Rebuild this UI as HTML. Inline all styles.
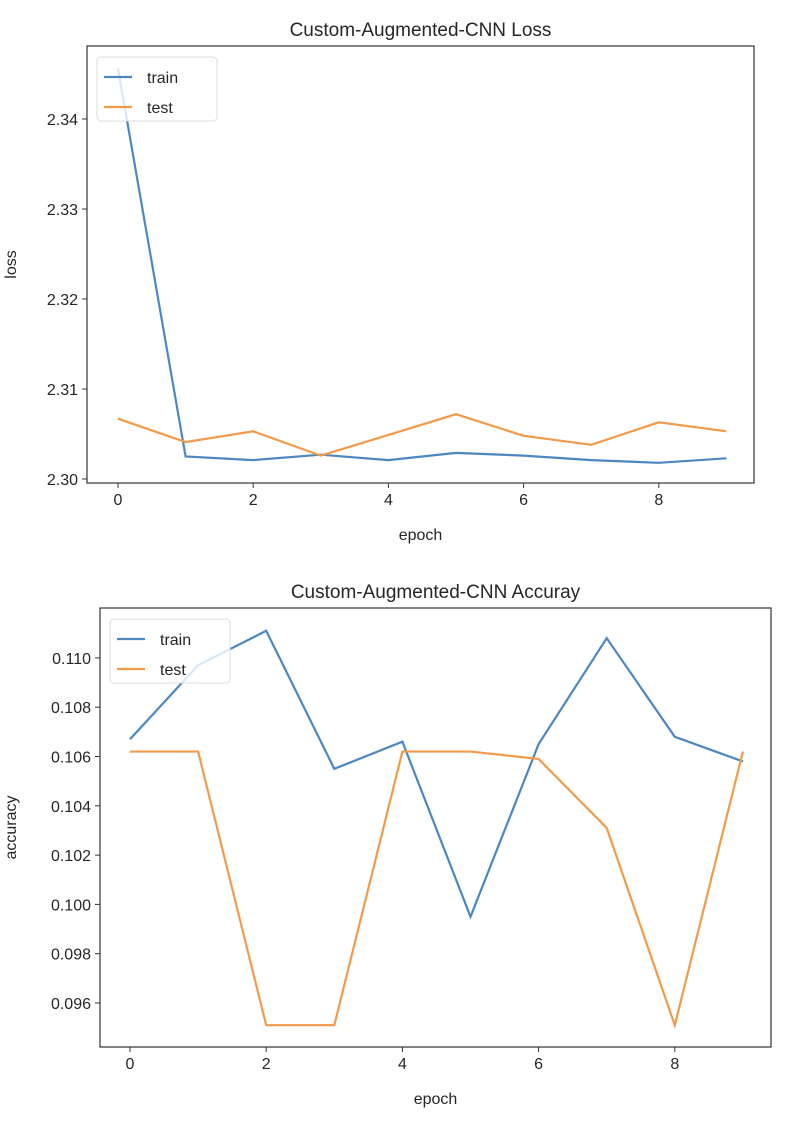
<!DOCTYPE html>
<html><head><meta charset="utf-8"><style>
body{margin:0;background:#fff;}
svg text{font-family:"Liberation Sans","DejaVu Sans",sans-serif;fill:#262626;}
</style></head><body>
<svg id="s" width="804" height="1116" xmlns="http://www.w3.org/2000/svg"></svg>
<script>
const epochs=[0,1,2,3,4,5,6,7,8,9];
const lossTrain=[2.3456,2.3025,2.3021,2.3027,2.3021,2.3029,2.3026,2.3021,2.3018,2.3023];
const lossTest=[2.3067,2.3041,2.3053,2.3026,2.3049,2.3072,2.3048,2.3038,2.3063,2.3053];
const accTrain=[0.1067,0.1097,0.1111,0.1055,0.1066,0.0995,0.1065,0.1108,0.1068,0.1058];
const accTest=[0.1062,0.1062,0.0951,0.0951,0.1062,0.1062,0.1059,0.1031,0.0951,0.1062];
const xTicks=[0,2,4,6,8];
const lossTicks=[2.30,2.31,2.32,2.33,2.34];
const lossTickLabels=["2.30","2.31","2.32","2.33","2.34"];
const accTicks=[0.096,0.098,0.100,0.102,0.104,0.106,0.108,0.110];
const accTickLabels=["0.096","0.098","0.100","0.102","0.104","0.106","0.108","0.110"];
const NS="http://www.w3.org/2000/svg";
const svg=document.getElementById('s');
function mk(t,a,p){const e=document.createElementNS(NS,t);for(const k in a)e.setAttribute(k,a[k]);(p||svg).appendChild(e);return e;}
function chart(cfg){
  const g=mk('g',{});
  
  
  const X=v=>cfg.x0+(v-0)*cfg.xs;
  const Y=v=>cfg.yRefPx+(cfg.yRef-v)*cfg.ys;
  const series=[[cfg.train,'#4c87c1','train'],[cfg.test,'#f39a4a','test']];
  series.forEach(([d,c,n])=>{
    const p=mk('polyline',{points:d.map((v,i)=>X(epochs[i])+','+Y(v)).join(' '),fill:'none',stroke:c,'stroke-width':2.2},g);
    
    
  });
  const r=mk('rect',{x:cfg.L,y:cfg.T,width:cfg.R-cfg.L,height:cfg.B-cfg.T,fill:'none',stroke:'#333','stroke-width':1.2},g);
  
  
  xTicks.forEach(t=>{
    mk('line',{x1:X(t),x2:X(t),y1:cfg.B,y2:cfg.B+5,stroke:'#333'},g);
    const tx=mk('text',{x:X(t),y:cfg.B+22,'font-size':16,'text-anchor':'middle'},g);tx.textContent=t;
    
    
  });
  cfg.ticks.forEach((t,i)=>{
    mk('line',{x1:cfg.L-5,x2:cfg.L,y1:Y(t),y2:Y(t),stroke:'#333'},g);
    const tx=mk('text',{x:cfg.L-9,y:Y(t)+6,'font-size':16,'text-anchor':'end'},g);tx.textContent=cfg.labels[i];
    
    
  });
  const ti=mk('text',{x:(cfg.L+cfg.R)/2,y:cfg.T-10,'font-size':19,'text-anchor':'middle'},g);ti.textContent=cfg.title;
  
  
  const xl=mk('text',{x:(cfg.L+cfg.R)/2,y:cfg.B+57,'font-size':16,'text-anchor':'middle'},g);xl.textContent='epoch';
  
  
  const yl=mk('text',{x:0,y:0,'font-size':16,'text-anchor':'middle',transform:`translate(${cfg.ylx},${(cfg.T+cfg.B)/2}) rotate(-90)`},g);yl.textContent=cfg.ylabel;
  
  
  const lg=mk('g',{},g);
  
  
  mk('rect',{x:cfg.L+10,y:cfg.T+11,width:120,height:64,rx:4,fill:'#fff','fill-opacity':0.8,stroke:'#ddd'},lg);
  series.forEach(([d,c,n],i)=>{
    const yy=cfg.T+31+i*30;
    mk('line',{x1:cfg.L+17,x2:cfg.L+45,y1:yy,y2:yy,stroke:c,'stroke-width':2.2},lg);
    const t=mk('text',{x:cfg.L+60,y:yy+6,'font-size':16},lg);t.textContent=n;
    
    
  });
}
chart({name:'loss-chart',title:'Custom-Augmented-CNN Loss',ylabel:'loss',L:87,R:754,T:46,B:483,x0:118,xs:67.6,yRef:2.34,yRefPx:119,ys:9000,train:lossTrain,test:lossTest,ticks:lossTicks,labels:lossTickLabels,ylx:16});
chart({name:'accuracy-chart',title:'Custom-Augmented-CNN Accuray',ylabel:'accuracy',L:100,R:771,T:608,B:1047,x0:130,xs:68.1,yRef:0.096,yRefPx:1003,ys:24650,train:accTrain,test:accTest,ticks:accTicks,labels:accTickLabels,ylx:16});
</script>
</body></html>
